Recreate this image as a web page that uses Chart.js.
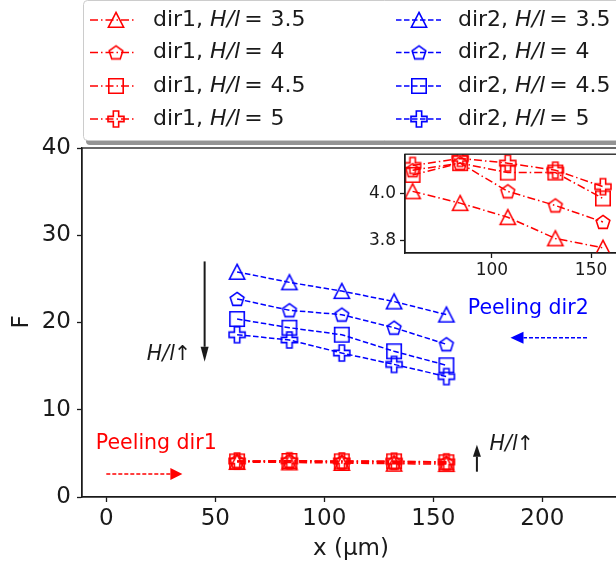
<!DOCTYPE html>
<html>
<head>
<meta charset="utf-8">
<script src="https://cdn.jsdelivr.net/npm/chart.js@4/dist/chart.umd.min.js"></script>
<style>
  html, body { margin: 0; padding: 0; background: #fff; }
  #wrap { position: relative; width: 616px; height: 567px; overflow: hidden; background: #fff; }
  #main { position: absolute; left: 0; top: 0; }
  #inset { position: absolute; left: 340px; top: 140px; }
</style>
</head>
<body>
<div id="wrap">
  <canvas id="main" width="680" height="567"></canvas>
  <canvas id="inset" width="340" height="150"></canvas>
</div>
<script>
// Peeling positions along the strip (µm)
const positions = [60, 84, 108, 132, 156];

// Peeling force, direction 1
const dir1_H35 = [4.01, 3.96, 3.90, 3.81, 3.77];
const dir1_H4  = [4.10, 4.13, 4.01, 3.95, 3.88];
const dir1_H45 = [4.08, 4.13, 4.09, 4.09, 3.98];
const dir1_H5  = [4.12, 4.15, 4.13, 4.10, 4.03];

// Peeling force, direction 2
const dir2_H35 = [25.8, 24.6, 23.6, 22.4, 20.9];
const dir2_H4  = [22.7, 21.4, 20.9, 19.4, 17.5];
const dir2_H45 = [20.4, 19.4, 18.6, 16.7, 15.1];
const dir2_H5  = [18.6, 18.0, 16.5, 15.2, 13.8];

const ratioLabels = ['3.5', '4', '4.5', '5'];
const xTicks = [0, 50, 100, 150, 200];
const yTicks = [0, 10, 20, 30, 40];
const insetXTicks = [100, 150];
const insetYTicks = [3.8, 4.0];

const RED = '#ff0000';
const BLUE = '#0000ff';
const INK = '#1a1a1a';
const FONT = '"DejaVu Sans", "Liberation Sans", sans-serif';
const DASHDOT = [8, 3, 1.5, 3];
const DASHED = [5.5, 2.5];

// hollow marker sprites
function makeMarker(shape, color) {
  const c = document.createElement('canvas');
  c.width = 22; c.height = 22;
  const g = c.getContext('2d');
  g.strokeStyle = color;
  g.lineWidth = 1.6;
  g.lineJoin = 'miter';
  g.translate(11, 11);
  g.beginPath();
  if (shape === 'triangle') {
    const r = 7.6;
    g.moveTo(0, -r); g.lineTo(r, r * 0.95); g.lineTo(-r, r * 0.95); g.closePath();
  } else if (shape === 'pentagon') {
    const r = 7.2;
    for (let i = 0; i < 5; i++) {
      const a = -Math.PI / 2 + i * 2 * Math.PI / 5;
      const px = r * Math.cos(a), py = r * Math.sin(a) + 0.6;
      if (i === 0) g.moveTo(px, py); else g.lineTo(px, py);
    }
    g.closePath();
  } else if (shape === 'square') {
    g.rect(-7.2, -7.2, 14.4, 14.4);
  } else if (shape === 'plus') {
    const u = 8 / 3;
    const pts = [[-1,-3],[-1,-1],[-3,-1],[-3,1],[-1,1],[-1,3],[1,3],[1,1],[3,1],[3,-1],[1,-1],[1,-3]];
    pts.forEach((p, i) => { if (i === 0) g.moveTo(p[0]*u, p[1]*u); else g.lineTo(p[0]*u, p[1]*u); });
    g.closePath();
  }
  g.stroke();
  return c;
}

const shapes = ['triangle', 'pentagon', 'square', 'plus'];
const redMarks = shapes.map(s => makeMarker(s, RED));
const blueMarks = shapes.map(s => makeMarker(s, BLUE));

function series(values, color, dash, marker, label) {
  return {
    label,
    data: positions.map((x, i) => ({ x, y: values[i] })),
    borderColor: color,
    borderWidth: 1.5,
    borderDash: dash,
    backgroundColor: 'transparent',
    pointStyle: marker,
    pointRadius: 8,
    pointHoverRadius: 8,
    tension: 0,
    fill: false
  };
}

const dir1Sets = [dir1_H35, dir1_H4, dir1_H45, dir1_H5];
const dir2Sets = [dir2_H35, dir2_H4, dir2_H45, dir2_H5];

function dir1Datasets() {
  return dir1Sets.map((v, i) => series(v, RED, DASHDOT, redMarks[i], 'dir1, H/l = ' + ratioLabels[i]));
}
function dir2Datasets() {
  return dir2Sets.map((v, i) => series(v, BLUE, DASHED, blueMarks[i], 'dir2, H/l = ' + ratioLabels[i]));
}

function drawArrow(ctx, x1, y1, x2, y2, color, dash, lw, headLen, headW) {
  const ang = Math.atan2(y2 - y1, x2 - x1);
  const bx = x2 - headLen * Math.cos(ang), by = y2 - headLen * Math.sin(ang);
  ctx.save();
  ctx.strokeStyle = color; ctx.fillStyle = color; ctx.lineWidth = lw;
  ctx.setLineDash(dash);
  ctx.beginPath(); ctx.moveTo(x1, y1); ctx.lineTo(bx, by); ctx.stroke();
  ctx.setLineDash([]);
  const nx = -Math.sin(ang) * headW / 2, ny = Math.cos(ang) * headW / 2;
  ctx.beginPath();
  ctx.moveTo(x2, y2); ctx.lineTo(bx + nx, by + ny); ctx.lineTo(bx - nx, by - ny); ctx.closePath();
  ctx.fill();
  ctx.restore();
}

// "H/l↑" with italic symbols and an upright arrow
function drawRatioTag(ctx, x, y, size) {
  ctx.save();
  ctx.fillStyle = INK; ctx.textBaseline = 'middle'; ctx.textAlign = 'left';
  ctx.font = 'italic ' + size + 'px ' + FONT;
  ctx.fillText('H/l', x, y);
  const w = ctx.measureText('H/l').width;
  ctx.font = size + 'px ' + FONT;
  ctx.fillText('\u2191', x + w - 1, y);
  ctx.restore();
}

function legendLabel(ctx, x, y, dir, ratio, size) {
  ctx.save();
  ctx.fillStyle = INK; ctx.textBaseline = 'middle'; ctx.textAlign = 'left';
  ctx.font = size + 'px ' + FONT;
  const head = dir + ', ';
  ctx.fillText(head, x, y);
  let cx = x + ctx.measureText(head).width;
  ctx.font = 'italic ' + size + 'px ' + FONT;
  ctx.fillText('H/l', cx, y);
  cx += ctx.measureText('H/l').width + 4;
  ctx.font = size + 'px ' + FONT;
  ctx.fillText('=', cx, y);
  cx += ctx.measureText('=').width + 8;
  ctx.fillText(ratio, cx, y);
  ctx.restore();
}

const frame = {
  id: 'frame',
  beforeDraw(chart) {
    const { ctx, chartArea: a } = chart;
    ctx.save();
    ctx.fillStyle = '#fff';
    ctx.fillRect(a.left, a.top, a.right - a.left, a.bottom - a.top);
    ctx.restore();
  },
  afterDraw(chart) {
    const { ctx, chartArea: a } = chart;
    ctx.save();
    ctx.strokeStyle = INK; ctx.lineWidth = 1.3;
    ctx.strokeRect(a.left, a.top, a.right - a.left, a.bottom - a.top);
    ctx.restore();
  }
};

const mainDecor = {
  id: 'mainDecor',
  afterDraw(chart) {
    const { ctx } = chart;
    const xs = chart.scales.x, ys = chart.scales.y;
    const X = v => xs.getPixelForValue(v), Y = v => ys.getPixelForValue(v);

    // direction arrows and notes
    drawArrow(ctx, X(0), Y(2.64), X(34.9), Y(2.64), RED, [4, 2], 1.5, 12, 12);
    drawArrow(ctx, X(220.5), Y(18.26), X(185.4), Y(18.26), BLUE, [4, 2], 1.5, 13, 12);
    drawArrow(ctx, X(45.1), Y(27), X(45.1), Y(15.5), INK, [], 2, 15, 8);
    drawArrow(ctx, X(170), Y(2.9), X(170), Y(6.0), INK, [], 2, 12, 8);

    ctx.save();
    ctx.textBaseline = 'middle'; ctx.textAlign = 'left';
    ctx.font = '20.5px ' + FONT;
    ctx.fillStyle = RED;
    ctx.fillText('Peeling dir1', X(-4.8), Y(6.07));
    ctx.fillStyle = BLUE;
    ctx.fillText('Peeling dir2', X(165.8), Y(21.55));
    ctx.restore();
    drawRatioTag(ctx, X(18.6), Y(16.27), 20.5);
    drawRatioTag(ctx, X(175.8), Y(5.96), 20.5);

    // axis titles
    ctx.save();
    ctx.fillStyle = INK; ctx.textAlign = 'center'; ctx.textBaseline = 'middle';
    ctx.font = '23px ' + FONT;
    ctx.fillText('x (\u03bcm)', 351, 549);
    ctx.translate(22, 322); ctx.rotate(-Math.PI / 2);
    ctx.fillText('F', 0, 0);
    ctx.restore();

    // legend box with shadow
    const bx = 83, by = 0, bw = 620, bh = 140;
    ctx.save();
    ctx.fillStyle = 'rgba(0,0,0,0.42)';
    roundRect(ctx, bx + 3, by + 5, bw, bh, 4); ctx.fill();
    ctx.fillStyle = '#fff';
    roundRect(ctx, bx, by, bw, bh, 4); ctx.fill();
    ctx.strokeStyle = '#cccccc'; ctx.lineWidth = 1;
    roundRect(ctx, bx + 0.5, by + 0.5, bw, bh, 4); ctx.stroke();
    ctx.restore();

    const rows = [20, 52.5, 86, 119];
    const cols = [
      { l0: 90, l1: 135, m: 116, t: 153, color: RED, dash: DASHDOT, marks: redMarks, dir: 'dir1' },
      { l0: 396, l1: 441, m: 419, t: 458, color: BLUE, dash: DASHED, marks: blueMarks, dir: 'dir2' }
    ];
    cols.forEach(c => {
      rows.forEach((ry, i) => {
        ctx.save();
        ctx.strokeStyle = c.color; ctx.lineWidth = 1.5; ctx.setLineDash(c.dash);
        ctx.beginPath(); ctx.moveTo(c.l0, ry); ctx.lineTo(c.l1, ry); ctx.stroke();
        ctx.restore();
        ctx.drawImage(c.marks[i], c.m - 11, ry - 11);
        legendLabel(ctx, c.t, ry, c.dir, ratioLabels[i], 22);
      });
    });
  }
};

function roundRect(ctx, x, y, w, h, r) {
  ctx.beginPath();
  ctx.moveTo(x + r, y);
  ctx.lineTo(x + w - r, y); ctx.quadraticCurveTo(x + w, y, x + w, y + r);
  ctx.lineTo(x + w, y + h - r); ctx.quadraticCurveTo(x + w, y + h, x + w - r, y + h);
  ctx.lineTo(x + r, y + h); ctx.quadraticCurveTo(x, y + h, x, y + h - r);
  ctx.lineTo(x, y + r); ctx.quadraticCurveTo(x, y, x + r, y);
  ctx.closePath();
}

function axisStyle(extra) {
  return Object.assign({
    type: 'linear',
    grid: { drawOnChartArea: false, drawTicks: true, tickLength: 5, color: INK, tickWidth: 1.3 },
    border: { display: true, color: INK, width: 1.3 },
  }, extra);
}

Chart.defaults.font.family = FONT;
Chart.defaults.color = INK;

new Chart(document.getElementById('main'), {
  type: 'line',
  data: { datasets: [...dir1Datasets(), ...dir2Datasets()] },
  options: {
    responsive: false,
    animation: false,
    devicePixelRatio: 1,
    layout: { padding: { top: 148, left: 0, right: 0, bottom: 0 } },
    plugins: { legend: { display: false }, tooltip: { enabled: false } },
    events: [],
    scales: {
      x: axisStyle({
        position: 'bottom',
        min: -11.15, max: 258.8,
        ticks: { font: { size: 23 }, padding: 3, color: INK, maxRotation: 0 },
        afterBuildTicks: s => { s.ticks = xTicks.map(v => ({ value: v })); },
        afterFit: s => { s.height = 70; }
      }),
      y: axisStyle({
        position: 'left',
        min: 0, max: 40,
        ticks: { font: { size: 23 }, padding: 6, color: INK },
        afterBuildTicks: s => { s.ticks = yTicks.map(v => ({ value: v })); },
        afterFit: s => { s.width = 82; }
      })
    }
  },
  plugins: [frame, mainDecor]
});

new Chart(document.getElementById('inset'), {
  type: 'line',
  data: { datasets: dir1Datasets() },
  options: {
    responsive: false,
    animation: false,
    devicePixelRatio: 1,
    layout: { padding: { top: 8, left: 0, right: 0, bottom: 0 } },
    plugins: { legend: { display: false }, tooltip: { enabled: false } },
    events: [],
    scales: {
      x: axisStyle({
        position: 'bottom',
        min: 56.18, max: 190.07,
        ticks: { font: { size: 17 }, padding: 2, color: INK, maxRotation: 0,
                 callback: v => String(v) },
        afterBuildTicks: s => { s.ticks = insetXTicks.map(v => ({ value: v })); },
        afterFit: s => { s.height = 37; }
      }),
      y: axisStyle({
        position: 'left',
        min: 3.748, max: 4.168,
        ticks: { font: { size: 17 }, padding: 4, color: INK,
                 callback: v => Number(v).toFixed(1) },
        afterBuildTicks: s => { s.ticks = insetYTicks.map(v => ({ value: v })); },
        afterFit: s => { s.width = 65; }
      })
    }
  },
  plugins: [frame]
});
</script>
</body>
</html>
